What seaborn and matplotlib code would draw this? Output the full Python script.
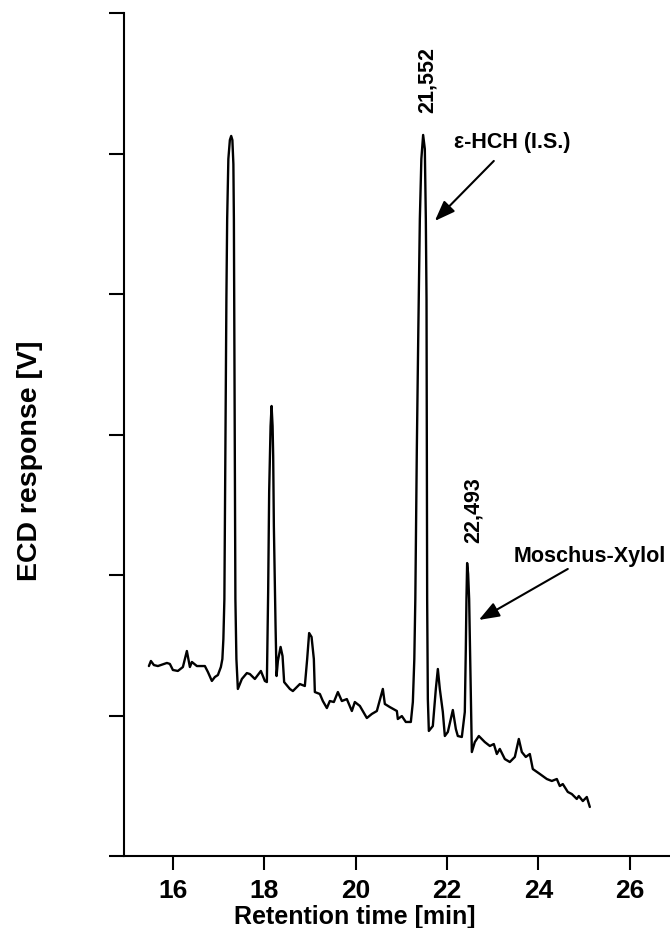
import pandas as pd
import seaborn as sns
import matplotlib.pyplot as plt

# chromatogram trace
# retention time [min]
retention_time = [
    15.475, 15.519, 15.584, 15.672, 15.869, 15.934, 16.000, 16.109, 16.219, 16.306,
    16.350, 16.372, 16.416, 16.525, 16.591, 16.700, 16.766, 16.853, 16.919, 16.985,
    17.050, 17.083, 17.105, 17.127, 17.149, 17.171, 17.188, 17.214, 17.247, 17.276,
    17.302, 17.324, 17.335, 17.346, 17.357, 17.368, 17.390, 17.422, 17.510, 17.619,
    17.685, 17.794, 17.926, 18.013, 18.057, 18.085, 18.107, 18.138, 18.160, 18.182,
    18.195, 18.210, 18.247, 18.269, 18.298, 18.357, 18.400, 18.435, 18.560, 18.626,
    18.779, 18.888, 18.939, 18.982, 19.035, 19.085, 19.107, 19.217, 19.282, 19.370,
    19.435, 19.523, 19.611, 19.698, 19.807, 19.917, 19.982, 20.092, 20.245, 20.354,
    20.464, 20.595, 20.639, 20.748, 20.902, 20.923, 21.011, 21.098, 21.208, 21.252,
    21.284, 21.306, 21.339, 21.372, 21.405, 21.438, 21.477, 21.514, 21.536, 21.551,
    21.558, 21.565, 21.580, 21.602, 21.689, 21.755, 21.799, 21.842, 21.908, 21.952,
    22.018, 22.127, 22.193, 22.236, 22.324, 22.389, 22.411, 22.425, 22.440, 22.462,
    22.484, 22.499, 22.521, 22.543, 22.608, 22.696, 22.827, 22.937, 23.024, 23.090,
    23.155, 23.265, 23.374, 23.484, 23.571, 23.637, 23.724, 23.812, 23.877, 24.031,
    24.184, 24.293, 24.403, 24.468, 24.534, 24.643, 24.731, 24.840, 24.884, 24.972,
    25.059, 25.125,
]
# ECD response (one unit = one y tick step)
ecd_response = [
    1.352, 1.388, 1.359, 1.352, 1.374, 1.367, 1.324, 1.317, 1.345, 1.459,
    1.381, 1.345, 1.381, 1.352, 1.352, 1.352, 1.310, 1.246, 1.274, 1.288,
    1.345, 1.402, 1.544, 1.829, 2.897, 3.964, 4.534, 4.961, 5.096, 5.125,
    5.096, 4.925, 4.534, 3.609, 2.541, 1.829, 1.402, 1.189, 1.260, 1.302,
    1.295, 1.260, 1.317, 1.246, 1.238, 1.879, 2.591, 3.060, 3.203, 3.060,
    2.847, 2.349, 1.637, 1.281, 1.388, 1.488, 1.423, 1.238, 1.189, 1.174,
    1.224, 1.210, 1.402, 1.587, 1.559, 1.402, 1.167, 1.153, 1.103, 1.053,
    1.103, 1.096, 1.167, 1.103, 1.117, 1.032, 1.096, 1.068, 0.982, 1.011,
    1.032, 1.189, 1.082, 1.060, 1.032, 0.975, 0.996, 0.954, 0.954, 1.096,
    1.402, 1.829, 2.897, 3.751, 4.534, 4.961, 5.132, 5.032, 4.534, 3.964,
    2.897, 1.829, 1.117, 0.890, 0.925, 1.189, 1.331, 1.189, 1.025, 0.854,
    0.883, 1.039, 0.904, 0.854, 0.847, 1.025, 1.473, 1.829, 2.085, 2.007,
    1.829, 1.544, 1.117, 0.740, 0.811, 0.854, 0.811, 0.783, 0.797, 0.726,
    0.762, 0.690, 0.669, 0.705, 0.833, 0.740, 0.705, 0.726, 0.619, 0.584,
    0.548, 0.534, 0.548, 0.498, 0.512, 0.456, 0.441, 0.406, 0.427, 0.391,
    0.420, 0.349,
]

x_ticks = [16, 18, 20, 22, 24, 26]
y_ticks = [0, 1, 2, 3, 4, 5, 6]

peak_labels = ["21,552", "22,493"]
compound_names = ["ε-HCH (I.S.)", "Moschus-Xylol"]

df = pd.DataFrame({"t": retention_time, "v": ecd_response})

sns.set_style("ticks")
plt.rcParams['font.family'] = ['Liberation Sans', 'DejaVu Sans']
plt.rcParams['font.weight'] = 'bold'
plt.rcParams['text.color'] = 'black'
plt.rcParams['axes.labelcolor'] = 'black'
plt.rcParams['xtick.color'] = 'black'
plt.rcParams['ytick.color'] = 'black'

fig = plt.figure(figsize=(6.7, 9.29), dpi=100)
ax = fig.add_axes([124 / 670, 72 / 929, 546 / 670, 843 / 929])

sns.lineplot(data=df, x="t", y="v", color="black", lw=1.7,
             sort=False, estimator=None, ax=ax)

ax.set_xlim(14.93, 26.88)
ax.set_ylim(0, 6)
sns.despine(ax=ax)
for s in ['left', 'bottom']:
    ax.spines[s].set_linewidth(1.5)
    ax.spines[s].set_color('black')

ax.set_xticks(x_ticks)
ax.set_yticks(y_ticks)
ax.tick_params(axis='x', length=10, width=1.5, labelsize=19, pad=5.5,
               colors='black')
ax.tick_params(axis='y', length=11, width=1.5, labelleft=False, colors='black')
for lab in ax.get_xticklabels():
    lab.set_fontweight('bold')

ax.set_xlabel("Retention time [min]", fontsize=18, fontweight='bold', color='black')
ax.xaxis.set_label_coords(0.423, -0.057)
ax.set_ylabel("ECD response [V]", fontsize=20.5, fontweight='bold', color='black')
ax.yaxis.set_label_coords(-0.148, 0.47)

# peak retention times, rotated
ax.text(21.558, 5.53, peak_labels[0], rotation=90, ha='center', va='center',
        fontsize=15.5, fontweight='bold')
ax.text(22.565, 2.47, peak_labels[1], rotation=90, ha='center', va='center',
        fontsize=15.5, fontweight='bold')

# compound names with arrows
ax.text(23.418, 5.082, compound_names[0], ha='center', va='center',
        fontsize=15.5, fontweight='bold')
ax.text(25.125, 2.142, compound_names[1], ha='center', va='center',
        fontsize=15.5, fontweight='bold')

arrow = dict(arrowstyle='-|>,head_length=0.8,head_width=0.3', color='black',
             lw=1.5, mutation_scale=15.5, shrinkA=0, shrinkB=0)
ax.annotate('', xy=(21.733, 4.520), xytext=(23.024, 4.947), arrowprops=arrow)
ax.annotate('', xy=(22.696, 1.680), xytext=(24.643, 2.043), arrowprops=arrow)

fig.savefig("out.png", dpi=100)
